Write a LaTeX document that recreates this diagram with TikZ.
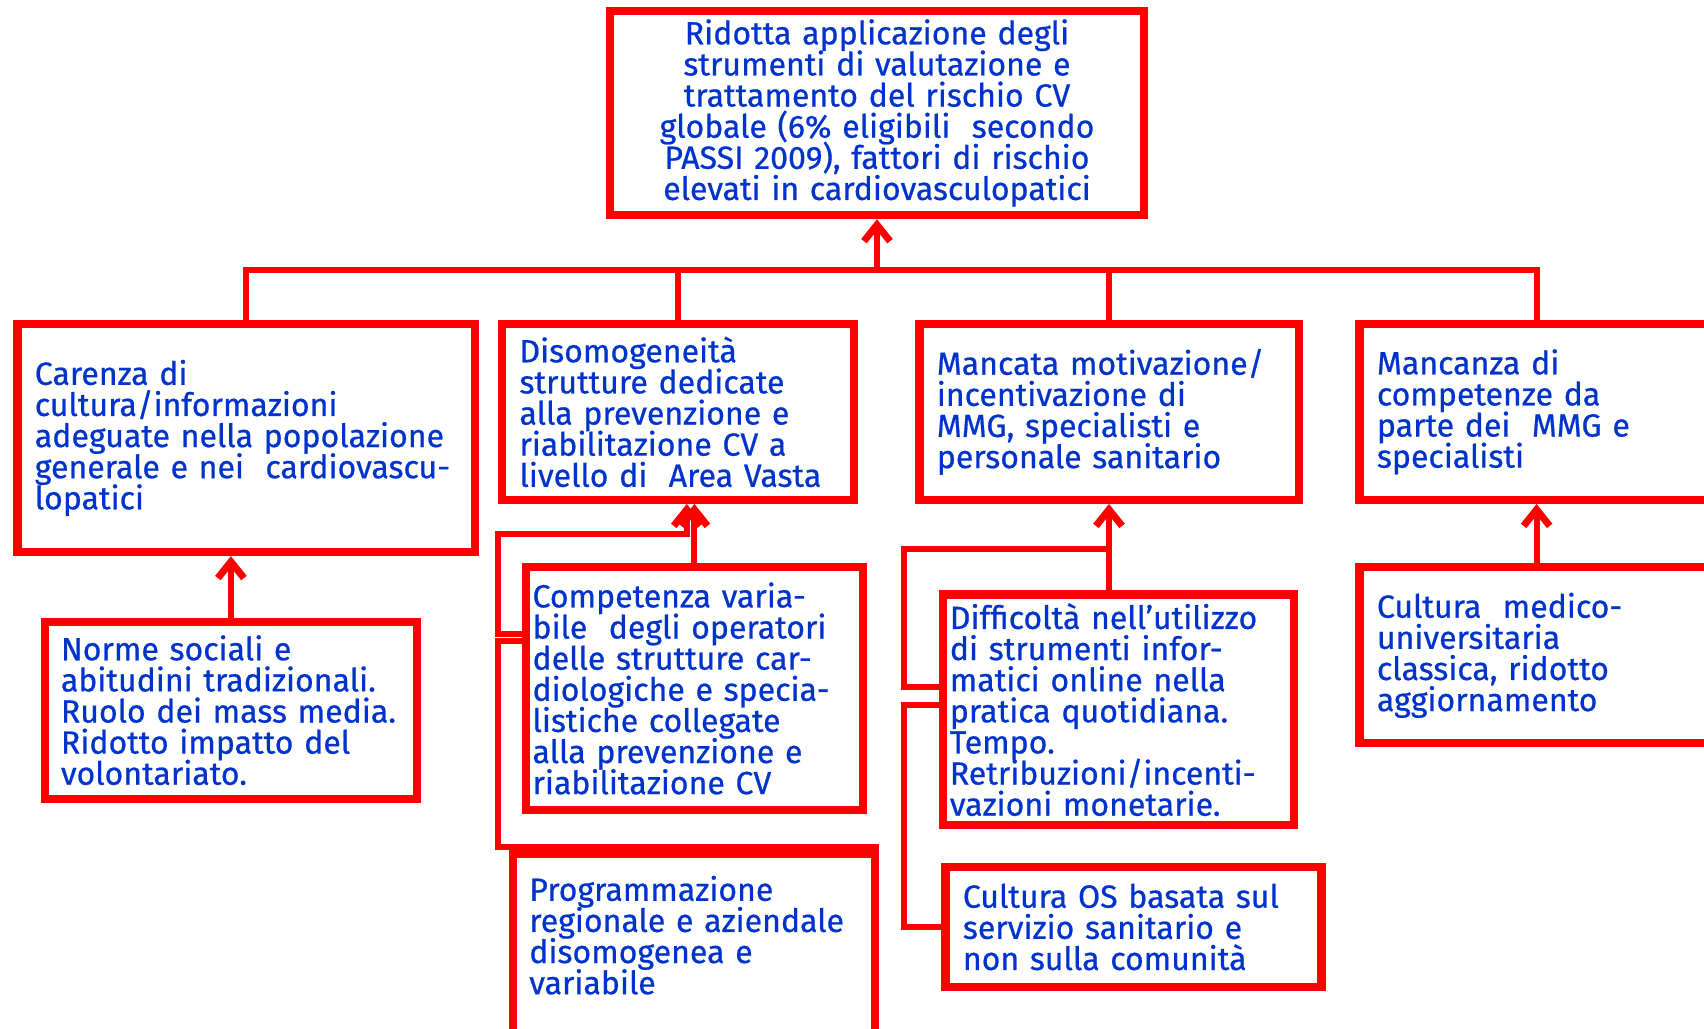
\documentclass[tikz,border=0pt]{standalone}
\usepackage{fontspec}
\setmainfont{Fira Sans}[FakeBold=0.6]
\usepackage{tikz}
\usetikzlibrary{calc,arrows.meta}
\definecolor{frame}{HTML}{FF0000}
\definecolor{ink}{HTML}{0033CC}
\newcommand{\boxfont}{\fontsize{16.8}{16.3}\selectfont\setlength{\lineskiplimit}{-100pt}}
\tikzset{
  box/.style={draw=frame, line width=0.15cm, text=ink, align=left, inner xsep=0.32cm, inner ysep=0pt,
    font=\boxfont},
  boxc/.style={box, align=center, inner xsep=0.2cm},
  tight/.style={inner xsep=0.12cm},
  link/.style={draw=frame, line width=0.11cm},
  up/.style={link, -{Straight Barb[length=0.3cm, width=0.48cm, line width=0.13cm]}},
}
\begin{document}
\begin{tikzpicture}[x=0.02cm, y=-0.02cm]
  \path[use as bounding box, clip] (0,0) rectangle (1568,946);
  \fill[white] (0,0) rectangle (1568,946);

  % top effect
  \node[boxc, minimum width=9.84cm, minimum height=3.76cm, text width=9.44cm] (T) at (807,104)
    {Ridotta applicazione degli\\strumenti di valutazione e\\trattamento del rischio CV\\globale (6\% eligibili\ \ secondo\\PASSI 2009), fattori di rischio\\elevati in cardiovasculopatici};

  % second row
  \node[box, minimum width=8.42cm, minimum height=4.2cm, text width=7.78cm] (B1) at (226.5,403)
    {Carenza di\\cultura/informazioni\\adeguate nella popolazione\\generale e nei\ \ cardiovascu-\\lopatici};
  \node[box, minimum width=6.48cm, minimum height=3.24cm, text width=5.84cm] (B2) at (624,379)
    {Disomogeneità\\strutture dedicate\\alla prevenzione e\\riabilitazione CV a\\livello di\ \ Area Vasta};
  \node[box, minimum width=6.98cm, minimum height=3.24cm, text width=6.34cm] (B3) at (1020.5,379)
    {Mancata motivazione/\\incentivazione di\\MMG, specialisti e\\personale sanitario};
  \node[box, minimum width=6.52cm, minimum height=3.24cm, text width=5.88cm] (B4) at (1414,379)
    {Mancanza di\\competenze da\\parte dei\ \ MMG e\\specialisti};

  % third row
  \node[box, inner xsep=0.3cm, minimum width=6.86cm, minimum height=3.26cm, text width=6.26cm] (C1) at (212.5,653.5)
    {Norme sociali e\\abitudini tradizionali.\\Ruolo dei mass media.\\Ridotto impatto del\\volontariato.};
  \node[box, tight, minimum width=6.2cm, minimum height=4.46cm, text width=5.96cm] (C2) at (639,633.5)
    {Competenza varia-\\bile\ \ degli operatori\\delle strutture car-\\diologiche e specia-\\listiche collegate\\alla prevenzione e\\riabilitazione CV};
  \node[box, inner xsep=0.3cm, minimum width=6.66cm, minimum height=4.48cm, text width=6.06cm] (C3) at (638.5,898)
    {Programmazione\\regionale e aziendale\\disomogenea e\\variabile\par\vspace{1.5cm}};
  \node[box, tight, minimum width=6.46cm, minimum height=4.24cm, text width=6.22cm] (C4) at (1029.5,653)
    {Difficoltà nell’utilizzo\\di strumenti infor-\\matici online nella\\pratica quotidiana.\\Tempo.\\Retribuzioni/incenti-\\vazioni monetarie.};
  \node[box, minimum width=6.92cm, minimum height=2.2cm, text width=6.28cm] (C5) at (1043,853)
    {Cultura OS basata sul\\servizio sanitario e\\non sulla comunità};
  \node[box, minimum width=6.52cm, minimum height=3.24cm, text width=5.88cm] (C6) at (1414,603)
    {Cultura\ \ medico-\\universitaria\\classica, ridotto\\aggiornamento};

  \coordinate (bus) at (807,248);
  \coordinate (s2) at (458,491);
  \coordinate (s3) at (832,505);
  \coordinate (c3top) at ([yshift=0.055cm]C3.north east);

  \draw[up] (bus) -- (T.south);
  \draw[link] (B1.north) |- (bus) -| (B4.north);
  \draw[link] (B2.north) -- (B2.north |- bus);
  \draw[link] (B3.north) -- (B3.north |- bus);

  \draw[up] (C1.north) -- (C1.north |- B1.south);
  \draw[up] (C2.north) -- (C2.north |- B2.south);
  \draw[up] (C2.west |- 0,583) -| (s2) -| ([xshift=-0.14cm]C2.north |- B2.south);
  \draw[link] (c3top) -- (c3top -| s2) |- (C2.west |- 0,590);

  \draw[up] (C4.north -| B3.south) -- (B3.south);
  \draw[link] (C4.west |- 0,632) -| (s3) -- (s3 -| B3.south);
  \draw[link] (C4.west |- 0,649) -- (s3 |- 0,649) |- (C5.west);
  \draw[up] (C6.north) -- (B4.south);
\end{tikzpicture}
\end{document}
